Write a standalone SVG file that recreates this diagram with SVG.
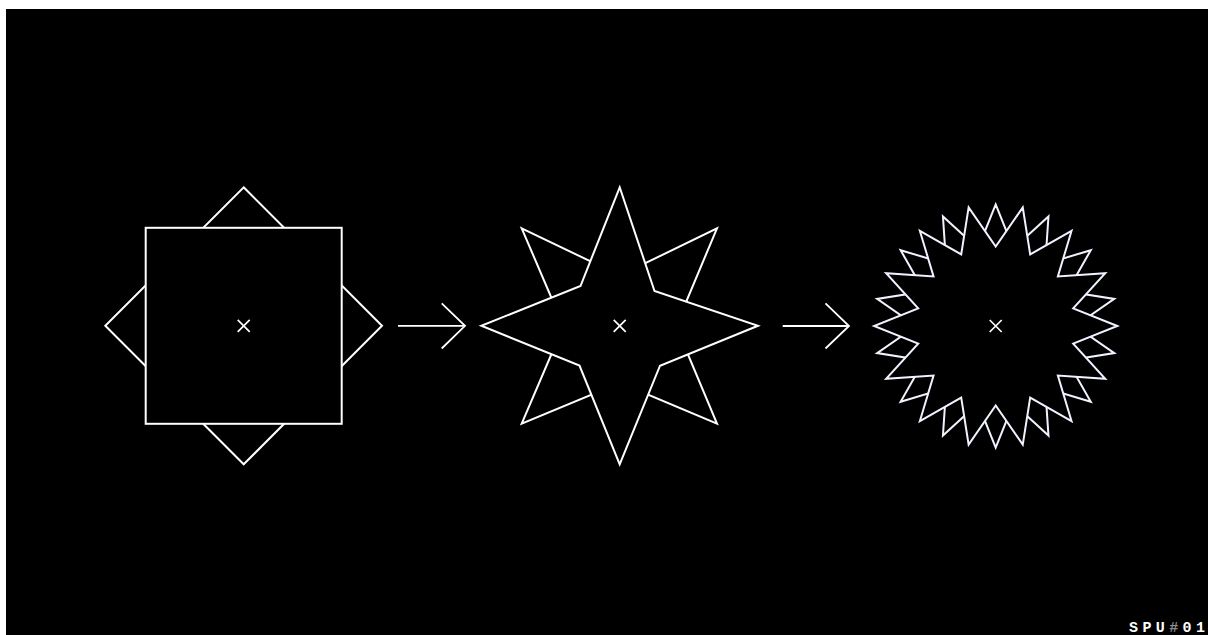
<svg xmlns="http://www.w3.org/2000/svg" xmlns:xlink="http://www.w3.org/1999/xlink" width="1208" height="635" viewBox="0 0 1208 635">
<style>
.shape{fill:#000;stroke:#fff;stroke-width:2;stroke-linejoin:miter;stroke-miterlimit:10}
.shape3{fill:#000;stroke:#f0f2ff;stroke-width:2;stroke-linejoin:miter;stroke-miterlimit:10}
.mark{stroke:#fff;stroke-width:1.7;fill:none}
.conn{stroke:#fff;stroke-width:1.8;fill:none;stroke-linecap:butt}
.label{font-family:"Liberation Mono","DejaVu Sans Mono",monospace;font-weight:bold;font-size:15px;fill:#fff}
</style>
<defs>
<polygon id="star14" points="121.6,0 77.51,-17.69 109.56,-52.76 62.16,-49.57 75.82,-95.07 34.49,-71.63 27.06,-118.55 0,-79.5 -27.06,-118.55 -34.49,-71.63 -75.82,-95.07 -62.16,-49.57 -109.56,-52.76 -77.51,-17.69 -121.6,0 -77.51,17.69 -109.56,52.76 -62.16,49.57 -75.82,95.07 -34.49,71.63 -27.06,118.55 0,79.5 27.06,118.55 34.49,71.63 75.82,95.07 62.16,49.57 109.56,52.76 77.51,17.69"/>
<path id="xmark" d="M-6,-6 L6,6 M6,-6 L-6,6"/>
</defs>
<rect x="0" y="0" width="1208" height="635" fill="#fff"/>
<rect x="6" y="9" width="1202" height="626" fill="#000"/>

<g id="node-square">
<polygon class="shape" points="243.7,187.3 382,325.8 243.7,464.3 105.3,325.8"/>
<rect class="shape" x="145.7" y="227.8" width="196" height="196"/>
<use href="#xmark" class="mark" transform="translate(243.7,325.8)"/>
</g>

<g id="node-star4">
<polygon class="shape" points="521.7,228.3 620,275.5 717,228.3 676,326 717,423.7 620,382.8 521.7,423.7 563.5,326"/>
<polygon class="shape" points="619.7,187.3 654.5,291 758,325.8 660,365.7 619.7,464.3 579.5,365.5 481.3,325.8 580.5,286"/>
<use href="#xmark" class="mark" transform="translate(619.7,325.8)"/>
</g>

<g id="node-star14">
<use href="#star14" class="shape3" transform="translate(995.7,326) rotate(12.857)"/>
<use href="#star14" class="shape3" transform="translate(995.7,326)"/>
<use href="#xmark" class="mark" transform="translate(995.7,326)"/>
</g>

<g id="connectors">
<line class="conn" x1="398" y1="325.8" x2="465" y2="325.8"/>
<polyline class="conn" points="441.7,303.3 465,325.8 441.7,348.5"/>
<line class="conn" x1="782.7" y1="326" x2="849" y2="326"/>
<polyline class="conn" points="825.5,303.3 849,326 825.5,348.5"/>
</g>

<text class="label" x="1129 1142.4 1155.8 1169.2 1182.6 1196" y="631.5">SPU<tspan fill="#8a8a8a">#</tspan>01</text>
</svg>
